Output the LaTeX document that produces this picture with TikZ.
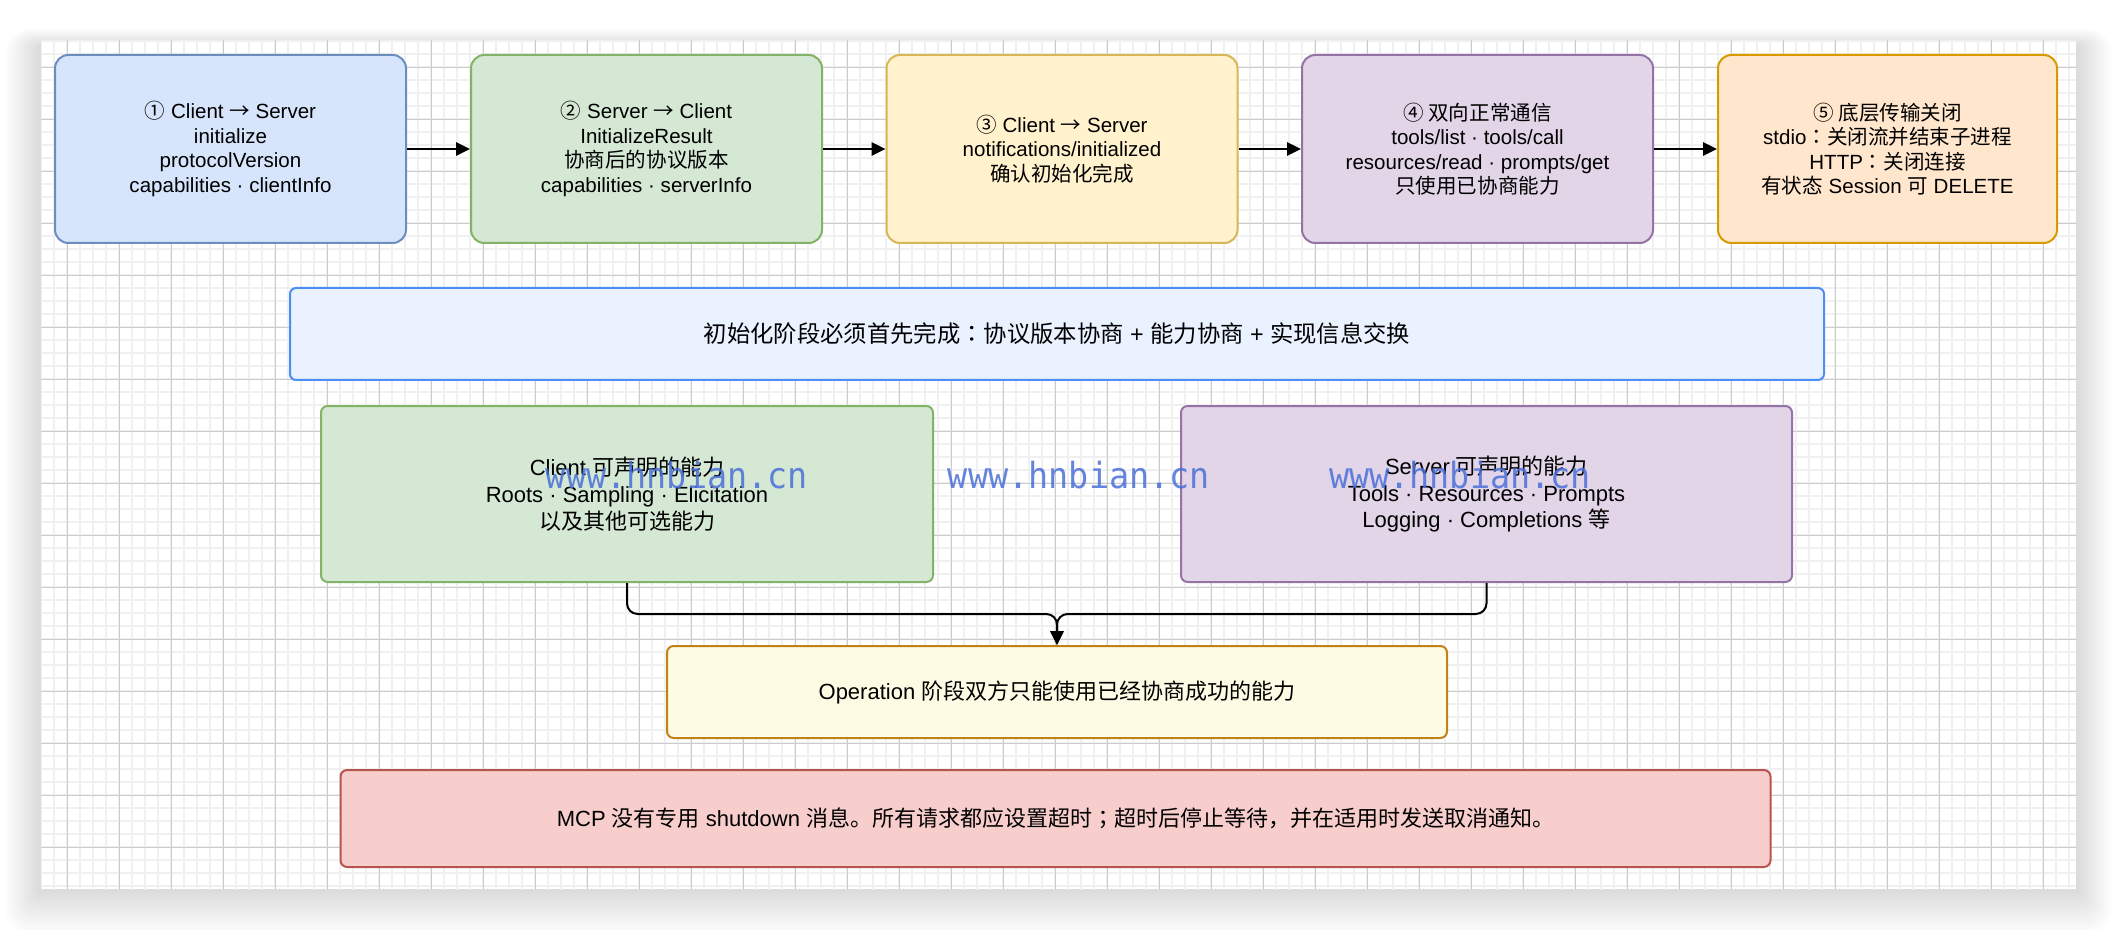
\documentclass[tikz,border=0pt]{standalone}
\usepackage{fontspec}
\setmainfont{Liberation Sans}
\newfontfamily\cjkfont{Noto Sans CJK SC}
\newfontfamily\cjkpunct{Noto Sans CJK JP}
\newfontfamily\wmfont{DejaVu Sans Mono}
\usepackage{tikz}
\usetikzlibrary{arrows.meta}
\usepackage{xcolor}
\newcommand{\zh}[1]{{\cjkfont #1}}
\newcommand{\zhcolon}{{\cjkpunct ：}}
\newcommand{\zhsemi}{{\cjkpunct ；}}
\definecolor{bluefill}{HTML}{D6E5FB}\definecolor{bluedraw}{HTML}{6C8EBF}
\definecolor{greenfill}{HTML}{D5E8D4}\definecolor{greendraw}{HTML}{82B366}
\definecolor{yellowfill}{HTML}{FFF2CC}\definecolor{yellowdraw}{HTML}{D6B656}
\definecolor{purplefill}{HTML}{E1D5E7}\definecolor{purpledraw}{HTML}{9673A6}
\definecolor{orangefill}{HTML}{FFE6CC}\definecolor{orangedraw}{HTML}{D79B00}
\definecolor{bannerfill}{HTML}{EAF2FF}\definecolor{bannerdraw}{HTML}{4C8DF6}
\definecolor{opfill}{HTML}{FDFBE3}\definecolor{opdraw}{HTML}{C2821A}
\definecolor{redfill}{HTML}{F8CECC}\definecolor{reddraw}{HTML}{B85450}
\definecolor{wmblue}{HTML}{4A6FD8}

\begin{document}
\begin{tikzpicture}[x=0.75pt,y=-0.75pt,font=\fontsize{15.4}{18.3}\selectfont,
   card/.style={line width=1.5pt,align=center,inner sep=0pt},
   stage/.style 2 args={card,fill=#1,draw=#2,rounded corners=10pt,
      minimum width=351*0.75pt,minimum height=188*0.75pt},
   panel/.style 2 args={card,fill=#1,draw=#2,rounded corners=5pt,
      font=\fontsize{16.5}{20}\selectfont},
   flow/.style={line width=1.5pt,-{Triangle[length=10.5pt,width=10pt]}},
   minorgrid/.style={draw=black!6,line width=1.5pt},
   majorgrid/.style={draw=black!20,line width=0.75pt},
   wmark/.style={text=wmblue,opacity=0.85,anchor=base,xscale=0.93,
      font=\wmfont\fontsize{27}{28}\selectfont}]
\useasboundingbox (0,0) rectangle (2116,930);
\fill[white] (0,0) rectangle (2116,930);
% canvas with soft shadow and grid
\foreach \i in {1,...,18}
  \fill[black,opacity=0.008,rounded corners=\i pt] (41-2*\i,41-\i+6) rectangle (2076+2*\i,889+2.5*\i);
\fill[white] (41,41) rectangle (2076,889);
\begin{scope}
  \clip (41,41) rectangle (2076,889);
  \begin{scope}[shift={(15.3,15.3)}]
    \draw[minorgrid] (0,0) grid[step=9.75pt] (2080,890);
    \draw[majorgrid] (0,0) grid[step=39pt] (2080,890);
  \end{scope}
\end{scope}
% top row: the five lifecycle steps
\node[stage={bluefill}{bluedraw}] (init) at (230.5,149)
  {\zh{①} Client \zh{→} Server\\initialize\\protocolVersion\\capabilities · clientInfo};
\node[stage={greenfill}{greendraw}] (result) at (646.5,149)
  {\zh{②} Server \zh{→} Client\\InitializeResult\\\zh{协商后的协议版本}\\capabilities · serverInfo};
\node[stage={yellowfill}{yellowdraw}] (notif) at (1062,149)
  {\zh{③} Client \zh{→} Server\\notifications/initialized\\\zh{确认初始化完成}};
\node[stage={purplefill}{purpledraw}] (ops) at (1477.5,149)
  {\zh{④ 双向正常通信}\\tools/list · tools/call\\resources/read · prompts/get\\\zh{只使用已协商能力}};
\node[stage={orangefill}{orangedraw},minimum width=339*0.75pt] (close) at (1887.5,149)
  {\zh{⑤ 底层传输关闭}\\stdio\zhcolon\zh{关闭流并结束子进程}\\HTTP\zhcolon\zh{关闭连接}\\\zh{有状态} Session \zh{可} DELETE};
\foreach \a/\b in {init/result,result/notif,notif/ops,ops/close}
  \draw[flow] (\a.east) -- (\b.west);
% banner
\node[panel={bannerfill}{bannerdraw},rounded corners=4.5pt,minimum width=1534*0.75pt,
  minimum height=92*0.75pt,font=\fontsize{17.5}{21}\selectfont] (banner) at (1057,334)
  {\zh{初始化阶段必须首先完成}\zhcolon\zh{协议版本协商} + \zh{能力协商} + \zh{实现信息交换}};
% capabilities on both sides
\node[panel={greenfill}{greendraw},minimum width=612*0.75pt,minimum height=176*0.75pt]
  (client) at (627,494) {Client \zh{可声明的能力}\\Roots · Sampling · Elicitation\\\zh{以及其他可选能力}};
\node[panel={purplefill}{purpledraw},minimum width=611*0.75pt,minimum height=176*0.75pt]
  (server) at (1486.5,494) {Server \zh{可声明的能力}\\Tools · Resources · Prompts\\Logging · Completions \zh{等}};
\node[panel={opfill}{opdraw},minimum width=780*0.75pt,minimum height=92*0.75pt]
  (operation) at (1057,692) {Operation \zh{阶段双方只能使用已经协商成功的能力}};
\coordinate (merge) at (1057,614);
\draw[flow,rounded corners=8pt] (client.south) |- (merge) -- (operation.north);
\draw[flow,rounded corners=8pt] (server.south) |- (merge) -- (operation.north);
% closing note
\node[panel={redfill}{reddraw},minimum width=1430*0.75pt,minimum height=97*0.75pt]
  (note) at (1055.5,818.5) {MCP \zh{没有专用} shutdown \zh{消息。所有请求都应设置超时}\zhsemi\zh{超时后停止等待，并在适用时发送取消通知。}};
% watermark
\foreach \x [count=\k] in {677,1079,1460}
  \node[wmark] (wm\k) at (\x,488) {www.hnbian.cn};
\end{tikzpicture}
\end{document}
